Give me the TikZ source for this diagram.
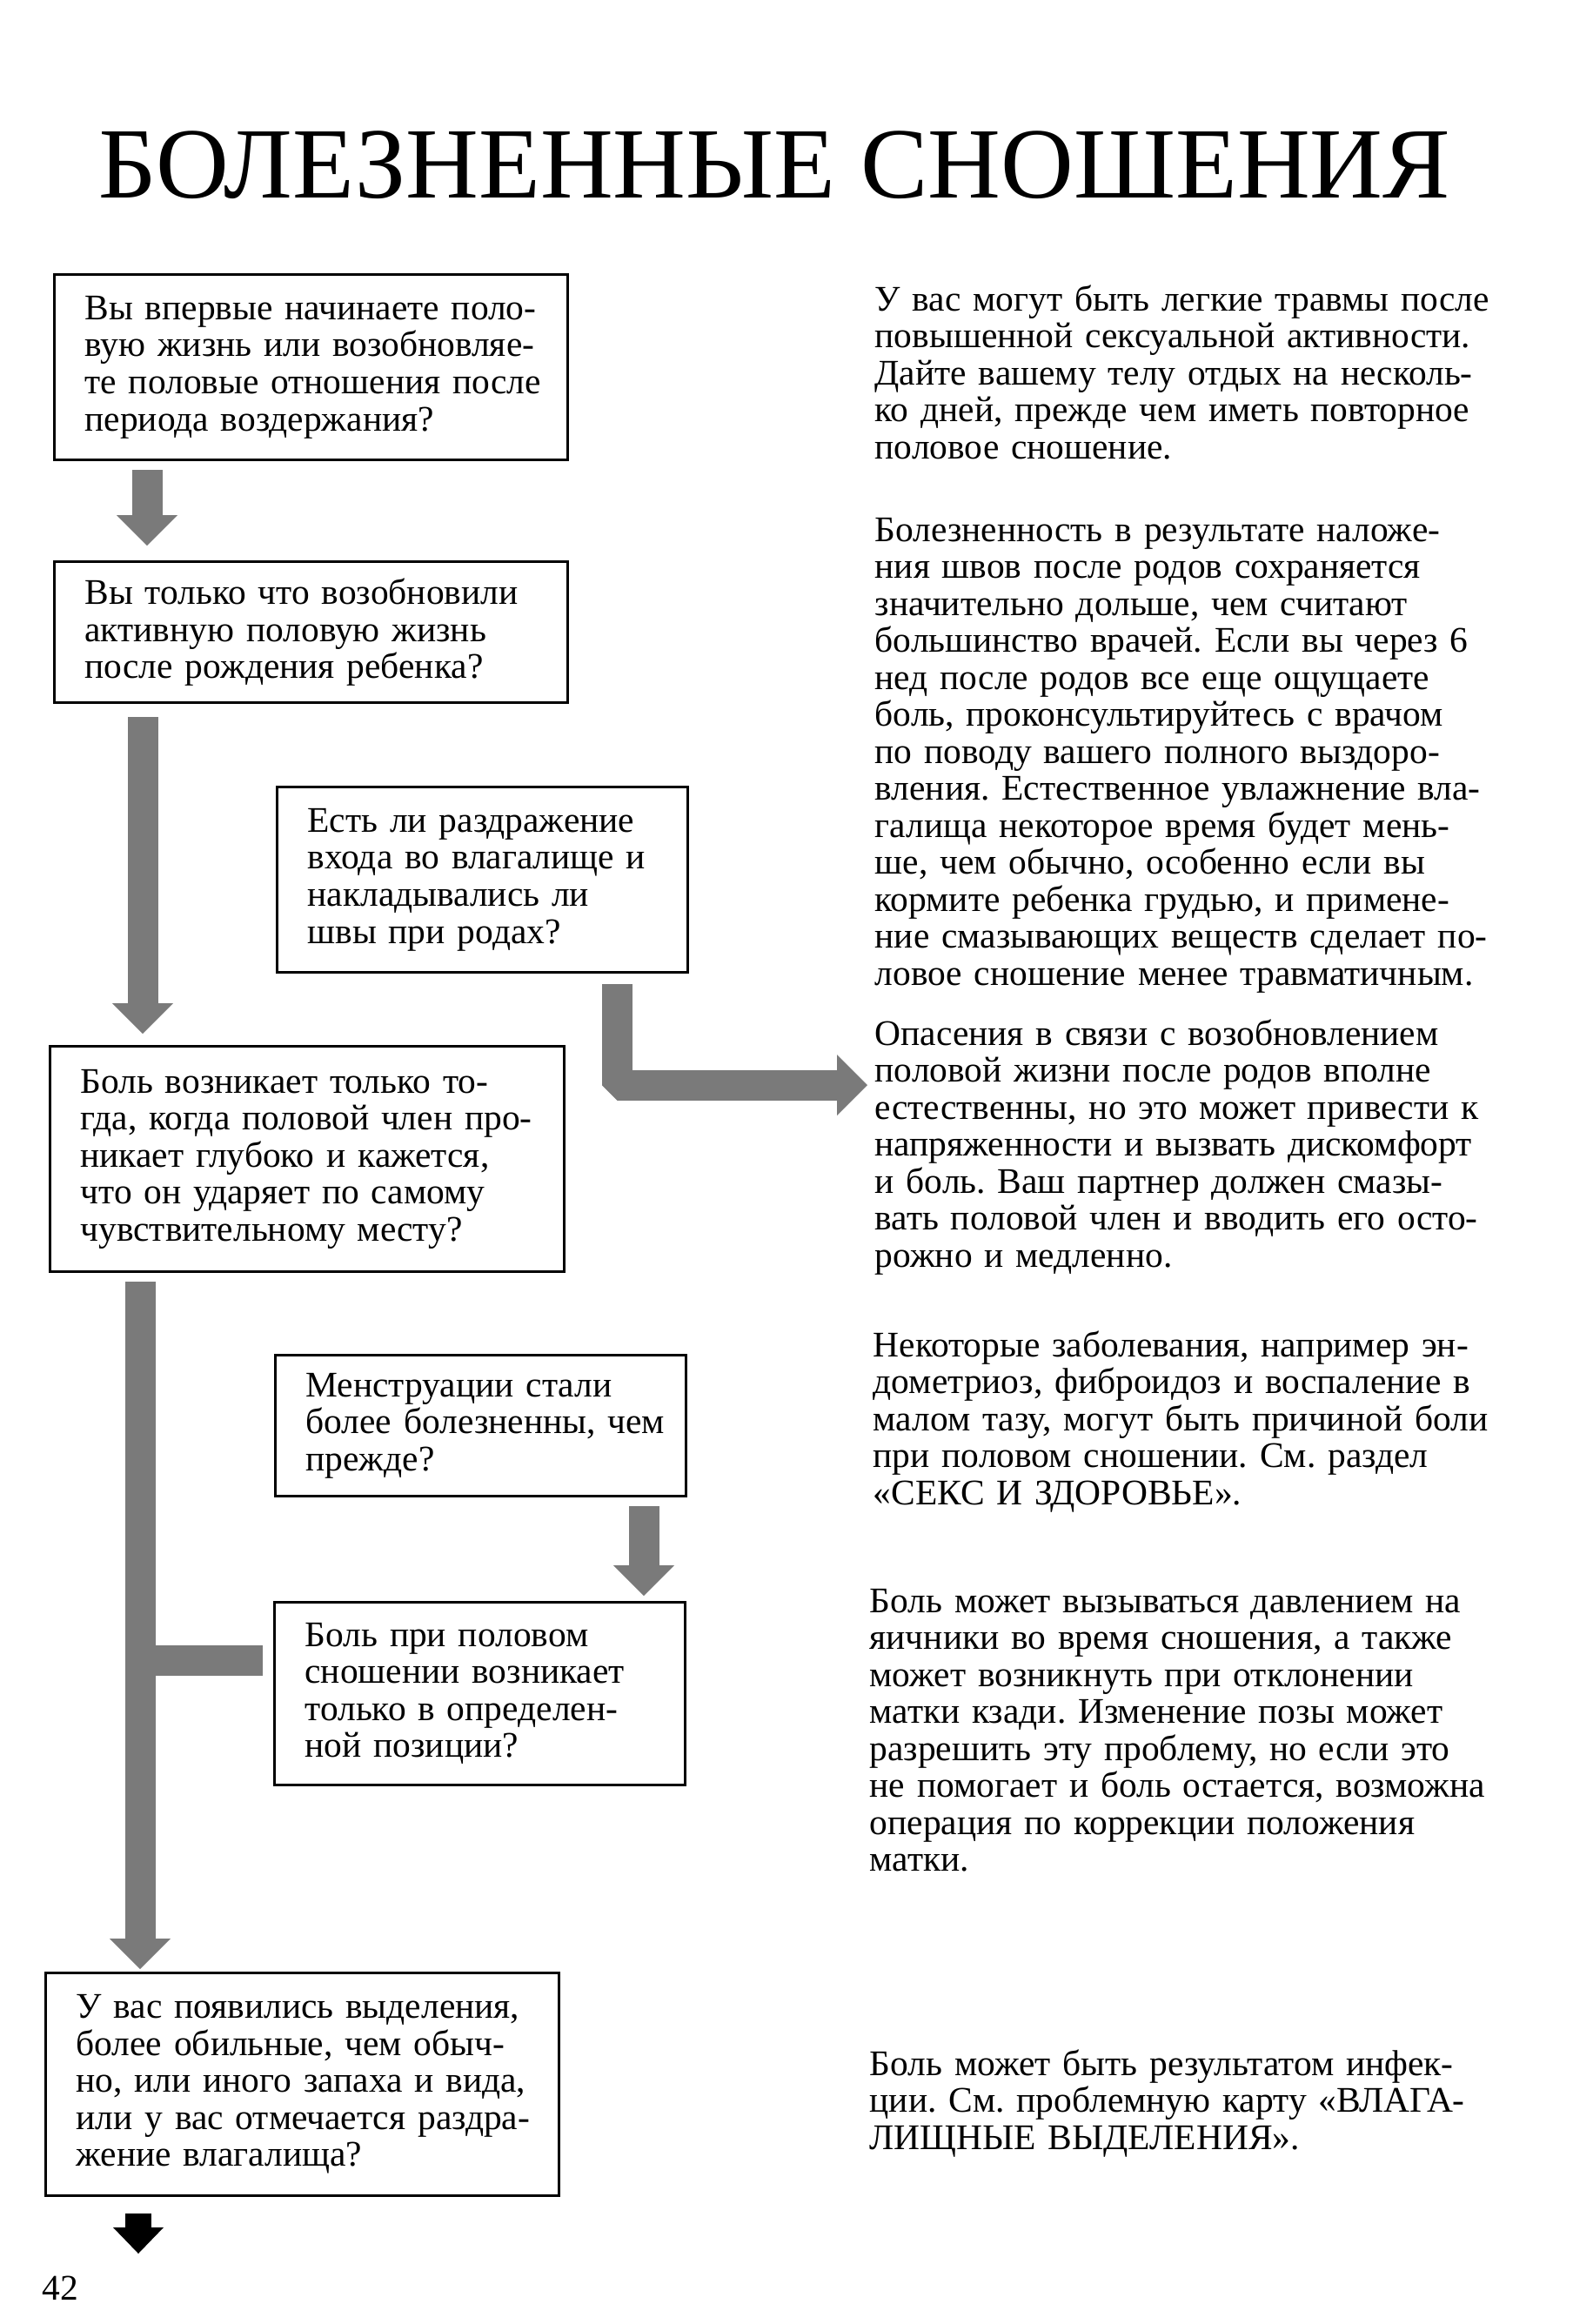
\documentclass[tikz,border=0pt]{standalone}
\usepackage{fontspec}
\setmainfont{Liberation Serif}
\usetikzlibrary{arrows.meta}
\newcommand{\txt}{\fontsize{11.8}{12.1}\selectfont\frenchspacing}

\begin{document}
\begin{tikzpicture}[
  x=1mm, y=1mm,
  ask/.style={draw, line width=0.9pt, anchor=north west, align=left, inner xsep=0pt, inner ysep=0pt, font=\txt,
    execute at begin node={\leftskip=3.5mm}},
  note/.style={anchor=base west, align=left, inner sep=0pt, text width=80mm, font=\txt},
  flow/.style={line width=3.5mm, draw=black!52, line join=bevel, -{Triangle[width=7mm, length=3.5mm, line width=0pt]}},
  branch/.style={line width=3.5mm, draw=black!52},
  exit/.style={line width=3mm, draw=black, -{Triangle[width=5.8mm, length=3mm, line width=0pt]}},
]
  \useasboundingbox (0,0) rectangle (183,-267.1);

  \node[anchor=base west, inner sep=0pt, font=\fontsize{33}{36}\selectfont] (title) at (11.3,-22.7) {БОЛЕЗНЕННЫЕ СНОШЕНИЯ};

  % question boxes, left column
  \node[ask, text width=59mm, minimum height=21.3mm] (b1) at (6.1,-31.4)
    {Вы впервые начинаете поло-\\вую жизнь или возобновляе-\\те половые отношения после\\периода воздержания?};
  \node[ask, text width=59mm, minimum height=16.2mm] (b2) at (6.1,-64.4)
    {Вы только что возобновили\\активную половую жизнь\\после рождения ребенка?};
  \node[ask, text width=47.2mm, minimum height=21.3mm] (b3) at (31.7,-90.3)
    {Есть ли раздражение\\входа во влагалище и\\накладывались ли\\швы при родах?};
  \node[ask, text width=59.1mm, minimum height=25.9mm] (b4) at (5.6,-120.1)
    {Боль возникает только то-\\гда, когда половой член про-\\никает глубоко и кажется,\\что он ударяет по самому\\чувствительному месту?};
  \node[ask, text width=47.2mm, minimum height=16.2mm] (b5) at (31.5,-155.6)
    {Менструации стали\\более болезненны, чем\\прежде?};
  \node[ask, text width=47.2mm, minimum height=21mm] (b6) at (31.4,-184)
    {Боль при половом\\сношении возникает\\только в определен-\\ной позиции?};
  \node[ask, text width=59mm, minimum height=25.6mm] (b7) at (5.1,-226.6)
    {У вас появились выделения,\\более обильные, чем обыч-\\но, или иного запаха и вида,\\или у вас отмечается раздра-\\жение влагалища?};

  % answers, right column
  \node[note] (p1) at (100.5,-35.7)
    {У вас могут быть легкие травмы после\\повышенной сексуальной активности.\\Дайте вашему телу отдых на несколь-\\ко дней, прежде чем иметь повторное\\половое сношение.};
  \node[note] (p2) at (100.5,-62.2)
    {Болезненность в результате наложе-\\ния швов после родов сохраняется\\значительно дольше, чем считают\\большинство врачей. Если вы через 6\\нед после родов все еще ощущаете\\боль, проконсультируйтесь с врачом\\по поводу вашего полного выздоро-\\вления. Естественное увлажнение вла-\\галища некоторое время будет мень-\\ше, чем обычно, особенно если вы\\кормите ребенка грудью, и примене-\\ние смазывающих веществ сделает по-\\ловое сношение менее травматичным.};
  \node[note] (p3) at (100.5,-120.1)
    {Опасения в связи с возобновлением\\половой жизни после родов вполне\\естественны, но это может привести к\\напряженности и вызвать дискомфорт\\и боль. Ваш партнер должен смазы-\\вать половой член и вводить его осто-\\рожно и медленно.};
  \node[note] (p4) at (100.3,-155.9)
    {Некоторые заболевания, например эн-\\дометриоз, фиброидоз и воспаление в\\малом тазу, могут быть причиной боли\\при половом сношении. См. раздел\\«СЕКС И ЗДОРОВЬЕ».};
  \node[note] (p5) at (99.9,-185.3)
    {Боль может вызываться давлением на\\яичники во время сношения, а также\\может возникнуть при отклонении\\матки кзади. Изменение позы может\\разрешить эту проблему, но если это\\не помогает и боль остается, возможна\\операция по коррекции положения\\матки.};
  \node[note] (p6) at (99.9,-238.5)
    {Боль может быть результатом инфек-\\ции. См. проблемную карту «ВЛАГА-\\ЛИЩНЫЕ ВЫДЕЛЕНИЯ».};

  \node[anchor=base west, inner sep=0pt, font=\txt] (page) at (4.8,-264.3) {42};

  \coordinate (knee) at (70.9,-124.7);
  \coordinate (spine) at (16.1,0);
  \coordinate (fork) at (0,-190.8);
  \coordinate (out) at (15.9,-259);

  % arrows
  \draw[flow, shorten <=1mm, shorten >=1.7mm] (b1.south -| 16.9,0) -- (b2.north -| 16.9,0);
  \draw[flow, shorten <=1.5mm, shorten >=1.3mm] (b2.south -| 16.4,0) -- (b4.north -| 16.4,0);
  \draw[flow, shorten <=1.2mm, shorten >=0.8mm] (b3.south -| knee) |- (p3.west |- knee);
  \draw[flow, shorten <=1mm, shorten >=0.6mm] (b5.south -| 74,0) -- (b6.north -| 74,0);
  \draw[branch, shorten <=1.2mm] (b6.west |- fork) -- (spine |- fork);
  \draw[flow, shorten <=1mm, shorten >=0.3mm] (b4.south -| spine) -- (b7.north -| spine);
  \draw[exit, shorten <=1.9mm] (b7.south -| out) -- (out);
\end{tikzpicture}
\end{document}
